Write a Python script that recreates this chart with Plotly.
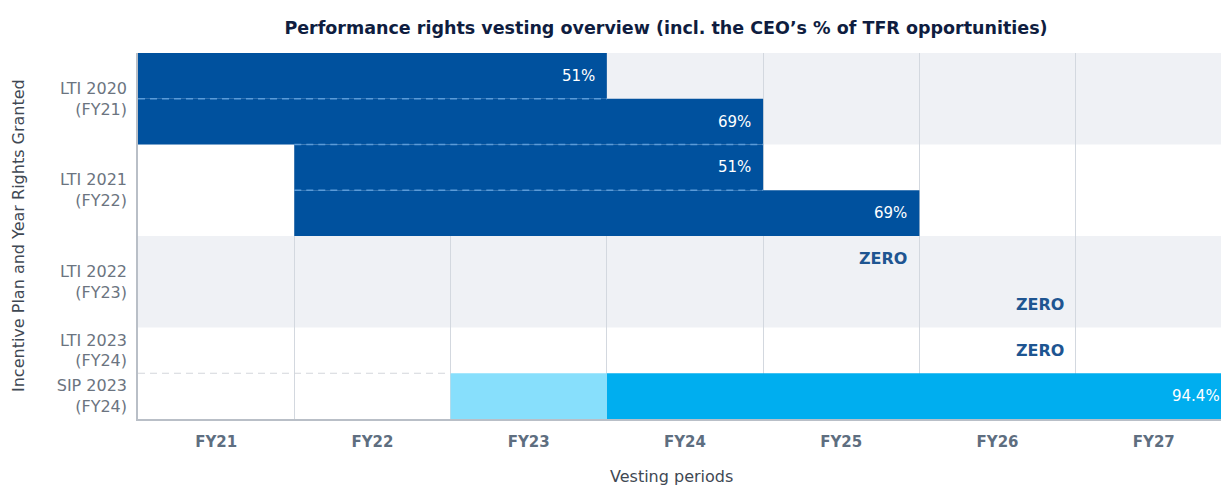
import plotly.graph_objects as go

# ---------------- data ----------------
periods = ["FY21", "FY22", "FY23", "FY24", "FY25", "FY26", "FY27"]

plans = ["LTI 2020", "LTI 2021", "LTI 2022", "LTI 2023", "SIP 2023"]
plan_labels = ["LTI 2020<br>(FY21)", "LTI 2021<br>(FY22)", "LTI 2022<br>(FY23)",
               "LTI 2023<br>(FY24)", "SIP 2023<br>(FY24)"]

tranche_plan = ["LTI 2020", "LTI 2020", "LTI 2021", "LTI 2021",
                "LTI 2022", "LTI 2022", "LTI 2023", "SIP 2023"]
tranche_from = ["FY21", "FY21", "FY22", "FY22", "FY23", "FY23", "FY24", "FY24"]
tranche_to = ["FY23", "FY24", "FY24", "FY25", "FY25", "FY26", "FY26", "FY27"]
tranche_outcome = [51, 69, 51, 69, 0, 0, 0, 94.4]
tranche_label = ["51%", "69%", "51%", "69%", "ZERO", "ZERO", "ZERO", "94.4%"]

leadin_plan = ["SIP 2023"]
leadin_period = ["FY23"]

# ---------------- styles ----------------
BLUE = "#00519e"
CYAN = "#00aeef"
LIGHT_CYAN = "#87dffc"
BAND = "#eff1f5"
GRID = "#d3d8df"
ZERO_COL = "#1e5591"
FONT = "DejaVu Sans"
X_MAX = 6.93

idx = {p: i for i, p in enumerate(periods)}
n_slots = len(tranche_plan)

# slot centres (top to bottom)
slot_y = [n_slots - k - 0.5 for k in range(n_slots)]

# plan row extents
plan_rows = {}
for k, p in enumerate(tranche_plan):
    top = n_slots - k
    lo, hi = plan_rows.get(p, (top - 1, top))
    plan_rows[p] = (min(lo, top - 1), max(hi, top))

fig = go.Figure()

# bars
bar_color = {"LTI": BLUE, "SIP": CYAN}
segments = []
for k in range(n_slots):
    if tranche_outcome[k] > 0:
        s = idx[tranche_from[k]]
        e = idx[tranche_to[k]] + 1
        col = bar_color[tranche_plan[k].split()[0]]
        segments.append((k, s, e))
        fig.add_trace(go.Bar(
            orientation="h", y=[slot_y[k]], x=[e - s], base=[s], width=1,
            marker=dict(color=col, line=dict(width=0)), hoverinfo="skip",
            showlegend=False))

for p, per in zip(leadin_plan, leadin_period):
    k = tranche_plan.index(p)
    s = idx[per]
    fig.add_trace(go.Bar(
        orientation="h", y=[slot_y[k]], x=[1], base=[s], width=1,
        marker=dict(color=LIGHT_CYAN, line=dict(width=0)), hoverinfo="skip",
        showlegend=False))

# background bands (alternate rows)
shapes = []
for i, p in enumerate(plans):
    if i % 2 == 0 and i < 3:
        lo, hi = plan_rows[p]
        shapes.append(dict(type="rect", xref="x", yref="y", x0=0, x1=len(periods),
                           y0=lo, y1=hi, fillcolor=BAND, line=dict(width=0),
                           layer="below"))

# dashed separators where adjacent bars overlap
segs = {k: (s, e) for k, s, e in segments}
for k in range(n_slots - 1):
    if k in segs and (k + 1) in segs:
        s = max(segs[k][0], segs[k + 1][0])
        e = min(segs[k][1], segs[k + 1][1])
        yb = slot_y[k] - 0.5
        shapes.append(dict(type="line", xref="x", yref="y", x0=s, x1=e, y0=yb, y1=yb,
                           line=dict(color="#5b9bd8", width=1.5, dash="7px,5px"),
                           layer="above"))
# grey dashed separator above SIP row
sip_lo, sip_hi = plan_rows["SIP 2023"]
shapes.append(dict(type="line", xref="x", yref="y", x0=0, x1=idx[leadin_period[0]],
                   y0=sip_hi, y1=sip_hi,
                   line=dict(color="#d3d6db", width=1, dash="7px,5px"), layer="above"))

# labels
annotations = []
for k in range(n_slots):
    e = idx[tranche_to[k]] + 1
    zero = tranche_outcome[k] == 0
    if e <= X_MAX:
        xr, xv = "x", e
    else:
        xr, xv = "paper", e / X_MAX
    annotations.append(dict(
        x=xv, y=slot_y[k], xref=xr, yref="y", text=tranche_label[k],
        showarrow=False, xanchor="right", yanchor="middle", xshift=-10,
        font=dict(family=FONT, size=16 if zero else 15,
                  color=ZERO_COL if zero else "white",
                  weight=700 if zero else 400)))

annotations.append(dict(x=0.493, y=-0.158, xref="paper", yref="paper",
                        text="Vesting periods", showarrow=False,
                        xanchor="center", yanchor="middle",
                        font=dict(family=FONT, size=16, color="#3f4853")))
annotations.append(dict(x=-0.1108, y=0.5, xref="paper", yref="paper",
                        text="Incentive Plan and Year Rights Granted", showarrow=False,
                        textangle=-90, xanchor="center", yanchor="middle",
                        font=dict(family=FONT, size=16, color="#3f4853")))

plan_centres = [(plan_rows[p][0] + plan_rows[p][1]) / 2 for p in plans]

fig.update_layout(
    width=1221, height=485,
    margin=dict(l=138, r=0, t=53, b=66),
    paper_bgcolor="white", plot_bgcolor="white",
    barmode="overlay",
    shapes=shapes, annotations=annotations,
    title=dict(text="Performance rights vesting overview (incl. the CEO’s % of TFR opportunities)",
               x=666 / 1221, xanchor="center", y=1 - 28 / 485, yanchor="middle",
               xref="container", yref="container",
               font=dict(family=FONT, size=17.5, color="#0f1d40", weight=700)),
    xaxis=dict(range=[0, X_MAX], tickvals=[i + 0.5 for i in range(len(periods))],
               ticktext=periods, showgrid=False, zeroline=False,
               showline=True, linecolor="#b9bfc7", linewidth=1.5,
               ticks="", ticklabelstandoff=8,
               tickfont=dict(family=FONT, size=15, color="#5e6e80", weight=700),
               minor=dict(tickvals=list(range(1, len(periods))), showgrid=True,
                          gridcolor=GRID, gridwidth=1)),
    yaxis=dict(range=[0, n_slots], tickvals=plan_centres, ticktext=plan_labels,
               showgrid=False, zeroline=False, showline=True, linecolor="#b9bfc7",
               linewidth=1.5, ticks="", ticklabelstandoff=6,
               tickfont=dict(family=FONT, size=16, color="#6b7480")),
)

fig.write_html("out.html", config={"displayModeBar": False},
               post_script="document.body.style.margin='0';")
